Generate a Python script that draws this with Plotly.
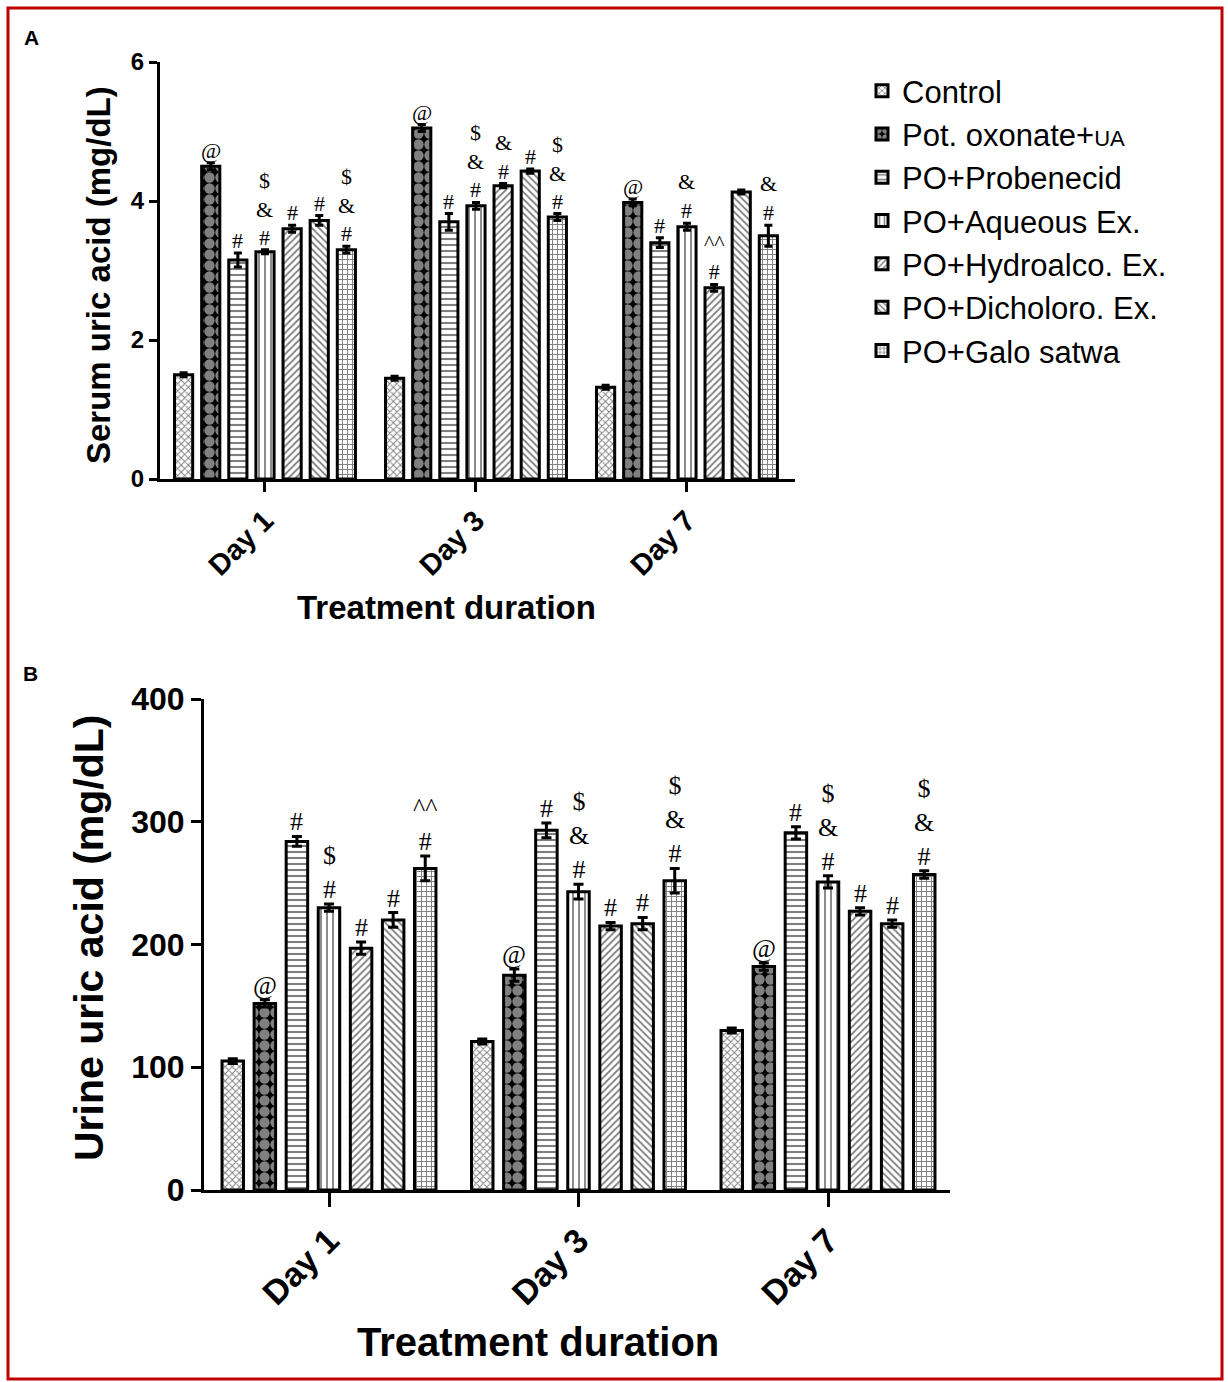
import plotly.graph_objects as go

days = ["Day 1", "Day 3", "Day 7"]
groups = ["Control", "Pot. oxonate+UA", "PO+Probenecid", "PO+Aqueous Ex.",
          "PO+Hydroalco. Ex.", "PO+Dicholoro. Ex.", "PO+Galo satwa"]
legend_names = ["Control", "Pot. oxonate+<span style='font-size:22px'>UA</span>",
                "PO+Probenecid", "PO+Aqueous Ex.", "PO+Hydroalco. Ex.",
                "PO+Dicholoro. Ex.", "PO+Galo satwa"]

# Panel A: serum uric acid (mg/dL), one list per group over days
serum = [
    [1.50, 1.45, 1.32],
    [4.50, 5.05, 3.98],
    [3.15, 3.70, 3.40],
    [3.27, 3.93, 3.63],
    [3.60, 4.22, 2.75],
    [3.72, 4.43, 4.13],
    [3.30, 3.77, 3.50],
]
serum_err = [
    [0.03, 0.03, 0.03],
    [0.05, 0.05, 0.05],
    [0.10, 0.12, 0.07],
    [0.03, 0.05, 0.05],
    [0.05, 0.03, 0.05],
    [0.07, 0.03, 0.03],
    [0.05, 0.05, 0.15],
]
serum_sig = [
    ["", "", ""],
    ["@", "@", "@"],
    ["#", "#", "#"],
    ["$<br>&<br>#", "$<br>&<br>#", "&<br>#"],
    ["#", "&<br>#", "^^<br>#"],
    ["#", "#", ""],
    ["$<br>&<br>#", "$<br>&<br>#", "&<br>#"],
]

# Panel B: urine uric acid (mg/dL)
urine = [
    [105, 121, 130],
    [152, 175, 182],
    [284, 293, 291],
    [230, 243, 251],
    [197, 215, 227],
    [220, 217, 217],
    [262, 252, 257],
]
urine_err = [
    [2, 2, 2],
    [3, 5, 3],
    [4, 6, 5],
    [3, 6, 5],
    [5, 3, 3],
    [6, 5, 3],
    [10, 10, 3],
]
urine_sig = [
    ["", "", ""],
    ["@", "@", "@"],
    ["#", "#", "#"],
    ["$<br>#", "$<br>&<br>#", "$<br>&<br>#"],
    ["#", "#", "#"],
    ["#", "#", "#"],
    ["^^<br>#", "$<br>&<br>#", "$<br>&<br>#"],
]

patterns = [
    dict(shape="x", size=5, solidity=0.35, fgcolor="black", bgcolor="white"),
    dict(shape=".", size=11, solidity=0.7, fgcolor="white", bgcolor="black"),
    dict(shape="-", size=6, solidity=0.35, fgcolor="black", bgcolor="white"),
    dict(shape="|", size=6, solidity=0.3, fgcolor="black", bgcolor="white"),
    dict(shape="/", size=5, solidity=0.35, fgcolor="black", bgcolor="white"),
    dict(shape="\\", size=5, solidity=0.35, fgcolor="black", bgcolor="white"),
    dict(shape="+", size=5, solidity=0.35, fgcolor="black", bgcolor="white"),
]

W, H = 1228, 1382
FONT = "Arial, Liberation Sans, sans-serif"
SERIF = "Times New Roman, Liberation Serif, serif"
BARGAP = 0.1
BARGROUPGAP = 0.33
xpos = [0, 1, 2]

fig = go.Figure()
for i, g in enumerate(groups):
    fig.add_trace(go.Bar(
        x=xpos, y=serum[i], name=legend_names[i], legendgroup=g,
        marker=dict(color="white", pattern=patterns[i], line=dict(color="black", width=3)),
        error_y=dict(type="data", array=serum_err[i], visible=True, color="black",
                     thickness=3, width=4),
        xaxis="x", yaxis="y", showlegend=True,
    ))
for i, g in enumerate(groups):
    fig.add_trace(go.Bar(
        x=xpos, y=urine[i], name=legend_names[i], legendgroup=g,
        marker=dict(color="white", pattern=patterns[i], line=dict(color="black", width=3)),
        error_y=dict(type="data", array=urine_err[i], visible=True, color="black",
                     thickness=3, width=5),
        xaxis="x2", yaxis="y2", showlegend=False,
    ))


def offset(i):
    slot = 1 - BARGAP
    return -slot / 2 + (i + 0.5) * slot / 7


annotations = []
for i in range(7):
    for d in range(3):
        if serum_sig[i][d]:
            annotations.append(dict(
                x=xpos[d] + offset(i), y=serum[i][d] + serum_err[i][d], xref="x", yref="y",
                text=serum_sig[i][d], showarrow=False, xanchor="center", yanchor="bottom",
                yshift=-2, font=dict(family=SERIF, size=22, color="black")))
        if urine_sig[i][d]:
            annotations.append(dict(
                x=xpos[d] + offset(i), y=urine[i][d] + urine_err[i][d], xref="x2", yref="y2",
                text=urine_sig[i][d], showarrow=False, xanchor="center", yanchor="bottom",
                yshift=-2, font=dict(family=SERIF, size=26, color="black")))


def px_x(p):
    return p / W


def px_y(p):
    return 1 - p / H


def label(text, x, y, size, angle=0):
    return dict(text=text, x=px_x(x), y=px_y(y), xref="paper", yref="paper",
                xanchor="center", yanchor="middle", showarrow=False, textangle=angle,
                font=dict(family=FONT, size=size, color="black", weight="bold"))


annotations += [
    label("A", 31, 37, 21),
    label("B", 30, 673, 21),
    label("Serum uric acid (mg/dL)", 98, 275, 33, -90),
    label("Treatment duration", 446, 607, 33),
    label("Urine uric acid (mg/dL)", 89, 938, 41, -90),
    label("Treatment duration", 538, 1342, 40),
]

axis_common = dict(showline=True, linecolor="black", linewidth=3, ticks="outside",
                   tickcolor="black", tickwidth=3, showgrid=False, zeroline=False,
                   automargin=False)

fig.update_layout(
    width=W, height=H,
    margin=dict(l=0, r=0, t=0, b=0),
    paper_bgcolor="white", plot_bgcolor="white",
    barmode="group", bargap=BARGAP, bargroupgap=BARGROUPGAP,
    font=dict(family=FONT, color="black"),
    xaxis=dict(domain=[px_x(160), px_x(795)], range=[-0.4976, 2.512], tickvals=xpos,
               ticktext=days, tickangle=-45, ticklen=10,
               tickfont=dict(family=FONT, size=29, color="black", weight="bold"),
               anchor="y", **axis_common),
    yaxis=dict(domain=[px_y(479), px_y(62)], range=[0, 6], tickvals=[0, 2, 4, 6], ticklen=8,
               tickfont=dict(family=FONT, size=24, color="black", weight="bold"),
               anchor="x", **axis_common),
    xaxis2=dict(domain=[px_x(204), px_x(950)], range=[-0.501, 2.489], tickvals=xpos,
                ticktext=days, tickangle=-45, ticklen=14,
                tickfont=dict(family=FONT, size=34, color="black", weight="bold"),
                anchor="y2", **axis_common),
    yaxis2=dict(domain=[px_y(1190), px_y(699)], range=[0, 400], tickvals=[0, 100, 200, 300, 400],
                ticklen=10, tickfont=dict(family=FONT, size=32, color="black", weight="bold"),
                anchor="x2", **axis_common),
    legend=dict(x=px_x(862), y=px_y(64), xanchor="left", yanchor="top",
                font=dict(family=FONT, size=31, color="black"), bgcolor="rgba(0,0,0,0)",
                itemwidth=30, tracegroupgap=0),
    annotations=annotations,
    shapes=[dict(type="rect", xref="paper", yref="paper", x0=px_x(8), x1=px_x(1222),
                 y0=px_y(1379), y1=px_y(8), line=dict(color="#c00000", width=3))],
)

fig.write_html("out.html", config={"displayModeBar": False},
               post_script="document.body.style.margin='0px';")
